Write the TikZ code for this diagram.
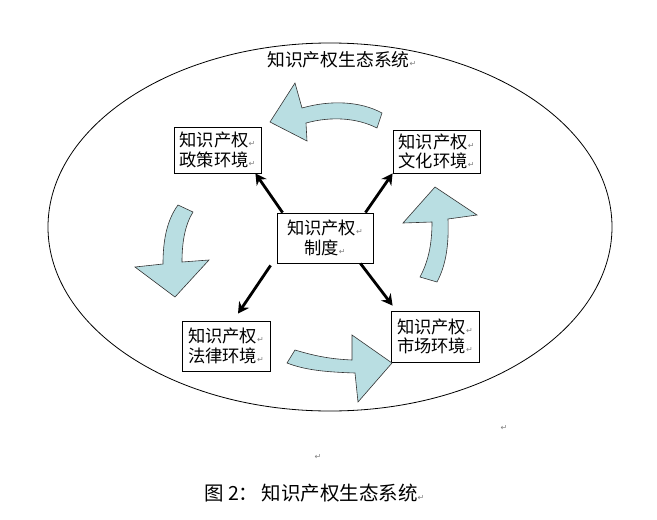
\documentclass[tikz,border=0pt]{standalone}
\usepackage{fontspec}
\setmainfont{Noto Sans CJK SC}
\newfontfamily\symfont{DejaVu Sans}
\usetikzlibrary{arrows.meta}
\definecolor{blockblue}{RGB}{185,222,226}
\newcommand{\retmark}{{\symfont\fontsize{8}{8}\selectfont\color{gray}\char"21B5}}
\begin{document}
\begin{tikzpicture}[x=1pt,y=-1pt]
\useasboundingbox (0,0) rectangle (657,520);
\tikzset{
 envbox/.style={draw, line width=0.8pt, inner sep=2pt, font=\fontsize{17.3}{19.5}\selectfont},
 blockarrow/.style={fill=blockblue, draw=black!80, line width=0.6pt},
 link/.style={line width=2.8pt, -{Stealth[length=11pt,width=12pt]}},
 lbl/.style={font=\fontsize{17.8}{20}\selectfont, inner sep=0pt}
}
% outer ellipse
\draw[line width=0.8pt] (330,227) ellipse [x radius=282, y radius=184];
% title
\node[lbl, anchor=west] (title) at (267,60) {知识产权生态系统\retmark};
% boxes
\node[envbox, align=left, minimum width=87pt, minimum height=46pt] (pol) at (217.5,150) {知识产权\retmark\\政策环境\retmark};
\node[envbox, align=left, minimum width=87pt, minimum height=43pt] (cul) at (436.5,151.5) {知识产权\retmark\\文化环境\retmark};
\node[envbox, align=center, minimum width=96pt, minimum height=50pt] (core) at (325,238) {知识产权\retmark\\制度\retmark};
\node[envbox, align=left, minimum width=88pt, minimum height=50pt] (law) at (226,346) {知识产权\retmark\\法律环境\retmark};
\node[envbox, align=left, minimum width=88pt, minimum height=51pt] (mkt) at (435,336.5) {知识产权\retmark\\市场环境\retmark};
% black arrows
\draw[link] ([xshift=6pt]core.north west) -- ([xshift=-6pt]pol.south east);
\draw[link] ([xshift=-8pt]core.north east) -- (cul.south west);
\draw[link] ([xshift=-6pt,yshift=-2pt]core.south west) -- ([xshift=12pt,yshift=7pt]law.north);
\draw[link] ([xshift=-13pt]core.south east) -- ([xshift=2pt,yshift=5pt]mkt.north west);
% curved block arrows
\draw[blockarrow] (270,122) -- (295,83) -- (302,108) .. controls (330,100) and (360,101) .. (382,113) -- (377,128) .. controls (357,118) and (332,116) .. (306,123) -- (307,141) -- cycle;
\draw[blockarrow] (178,205) -- (193,212) .. controls (185,225) and (182,242) .. (182,262) -- (209,260) -- (175,297) -- (135,267) -- (163,264) .. controls (163,240) and (167,220) .. (178,205) -- cycle;
\draw[blockarrow] (420,277) .. controls (428,262) and (432,245) .. (432,222) -- (403,223) -- (435,187) -- (477,215) -- (448,219) .. controls (449,245) and (446,265) .. (437,282) -- cycle;
\draw[blockarrow] (287,363) -- (295,350) .. controls (315,356) and (330,359) .. (352,360) -- (352,335) -- (392,363) -- (358,402) -- (355,373) .. controls (325,372) and (305,370) .. (287,363) -- cycle;
% stray paragraph marks
\node[inner sep=0pt] (m1) at (504,428) {\retmark};
\node[inner sep=0pt] (m2) at (318,457) {\retmark};
% caption
\node[lbl, anchor=west, font=\fontsize{19.5}{22}\selectfont] (cap) at (204,493) {图\ 2：\,知识产权生态系统\retmark};
\end{tikzpicture}
\end{document}
